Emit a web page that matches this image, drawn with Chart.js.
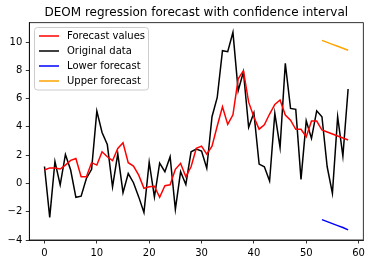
<!DOCTYPE html>
<html>
<head>
<meta charset="utf-8">
<script src="https://cdn.jsdelivr.net/npm/chart.js@4/dist/chart.umd.min.js"></script>
<style>
  html, body { margin: 0; padding: 0; background: #fff; }
  #wrap { width: 374px; height: 264px; }
</style>
</head>
<body>
<div id="wrap"><canvas id="c" width="374" height="264"></canvas></div>
<script>
const titleText = "DEOM regression forecast with confidence interval";
const xIndex = Array.from({length: 59}, (_, i) => i);
const originalData = [1.2, -2.4, 1.55, -0.1, 2.05, 0.95, -0.98, -0.9, 0.35, 1.0,
  5.12, 3.6, 2.75, -0.25, 2.1, -0.65, 0.7, 0.05, -0.95, -2.05,
  1.5, -0.96, 1.43, 0.83, 1.89, -1.83, 0.83, -0.07, 2.24, 2.43,
  2.29, 1.07, 4.72, 6.09, 9.39, 9.32, 10.69, 6.56, 7.9, 3.97,
  5.0, 1.37, 1.18, 0.17, 4.96, 2.55, 8.49, 5.31, 5.24, 0.29,
  4.43, 3.19, 5.14, 4.72, 1.18, -0.7, 4.72, 1.94, 6.68];
const forecastValues = [0.95, 1.1, 1.1, 1.02, 1.3, 1.63, 1.77, 0.48, 0.48, 1.47,
  1.3, 2.24, 1.89, 1.61, 2.48, 2.88, 1.47, 1.23, 0.59, -0.35,
  -0.23, -0.2, -0.98, -0.16, -0.1, 1.0, 1.42, 0.48, 1.18, 2.48,
  2.64, 2.08, 2.64, 4.06, 5.42, 4.18, 4.86, 7.4, 7.97, 5.75,
  4.7, 3.84, 4.15, 4.91, 5.59, 5.9, 4.84, 4.48, 3.83, 3.83,
  3.3, 4.41, 4.41, 3.78, 3.64, 3.5, 3.36, 3.22, 3.07];
const forecastX = [53, 54, 55, 56, 57, 58];
const lowerForecast = [-2.56, -2.7, -2.84, -2.98, -3.12, -3.28];
const upperForecast = [10.12, 9.98, 9.84, 9.70, 9.56, 9.42];
const xTicks = [0, 10, 20, 30, 40, 50, 60];
const yTicks = [-4, -2, 0, 2, 4, 6, 8, 10];

const FONT = "'DejaVu Sans', sans-serif";
const toPts = (xs, ys) => xs.map((x, i) => ({x: x, y: ys[i]}));

const frameAndLegend = {
  id: 'frameAndLegend',
  afterDraw(chart) {
    const ctx = chart.ctx;
    const a = chart.chartArea;
    ctx.save();
    ctx.strokeStyle = '#000';
    ctx.lineWidth = 0.8;
    ctx.strokeRect(a.left, a.top, a.right - a.left, a.bottom - a.top);
    ctx.fillStyle = '#000';
    ctx.font = '12px ' + FONT;
    ctx.textAlign = 'center';
    ctx.textBaseline = 'middle';
    ctx.fillText(titleText, (a.left + a.right) / 2, 13);
    const bx = 34.5, by = 27.5, bw = 114, bh = 62.5, r = 3;
    ctx.beginPath();
    ctx.moveTo(bx + r, by);
    ctx.lineTo(bx + bw - r, by);
    ctx.arcTo(bx + bw, by, bx + bw, by + r, r);
    ctx.lineTo(bx + bw, by + bh - r);
    ctx.arcTo(bx + bw, by + bh, bx + bw - r, by + bh, r);
    ctx.lineTo(bx + r, by + bh);
    ctx.arcTo(bx, by + bh, bx, by + bh - r, r);
    ctx.lineTo(bx, by + r);
    ctx.arcTo(bx, by, bx + r, by, r);
    ctx.closePath();
    ctx.fillStyle = 'rgba(255,255,255,0.8)';
    ctx.fill();
    ctx.strokeStyle = '#cccccc';
    ctx.lineWidth = 1;
    ctx.stroke();
    ctx.font = '10px ' + FONT;
    ctx.textAlign = 'left';
    ctx.textBaseline = 'middle';
    chart.data.datasets.forEach((ds, i) => {
      const y = 36 + i * 15;
      ctx.strokeStyle = ds.borderColor;
      ctx.lineWidth = 1.5;
      ctx.beginPath();
      ctx.moveTo(39, y);
      ctx.lineTo(59, y);
      ctx.stroke();
      ctx.fillStyle = '#000';
      ctx.fillText(ds.label, 67, y);
    });
    ctx.restore();
  }
};

new Chart(document.getElementById('c'), {
  type: 'line',
  data: {
    datasets: [
      {label: 'Forecast values', data: toPts(xIndex, forecastValues), borderColor: '#ff0000', borderWidth: 1.5, pointRadius: 0, tension: 0, fill: false},
      {label: 'Original data', data: toPts(xIndex, originalData), borderColor: '#000000', borderWidth: 1.5, pointRadius: 0, tension: 0, fill: false},
      {label: 'Lower forecast', data: toPts(forecastX, lowerForecast), borderColor: '#0000ff', borderWidth: 1.5, pointRadius: 0, tension: 0, fill: false},
      {label: 'Upper forecast', data: toPts(forecastX, upperForecast), borderColor: '#ffa500', borderWidth: 1.5, pointRadius: 0, tension: 0, fill: false}
    ]
  },
  options: {
    responsive: false,
    animation: false,
    devicePixelRatio: 1,
    layout: {padding: {top: 22.7, right: 10.7, left: 0, bottom: 0}},
    plugins: {legend: {display: false}, title: {display: false}, tooltip: {enabled: false}},
    scales: {
      x: {
        type: 'linear',
        min: -2.9, max: 60.9,
        afterBuildTicks: s => { s.ticks = xTicks.map(v => ({value: v})); },
        afterFit: s => { s.height = 24; },
        grid: {drawOnChartArea: false, drawTicks: true, tickLength: 3.5, color: '#000', lineWidth: 0.8},
        border: {display: true, color: '#000', width: 0.8},
        ticks: {font: {family: FONT, size: 10}, color: '#000', padding: 3.5, maxRotation: 0, autoSkip: false}
      },
      y: {
        type: 'linear',
        min: -4.0, max: 11.37,
        afterBuildTicks: s => { s.ticks = yTicks.map(v => ({value: v})); },
        afterFit: s => { s.width = 29.3; },
        grid: {drawOnChartArea: false, drawTicks: true, tickLength: 3.5, color: '#000', lineWidth: 0.8},
        border: {display: true, color: '#000', width: 0.8},
        ticks: {font: {family: FONT, size: 10}, color: '#000', padding: 3.5, autoSkip: false,
          callback: v => (v < 0 ? '\u2212' + Math.abs(v) : String(v))}
      }
    }
  },
  plugins: [frameAndLegend]
});
</script>
</body>
</html>
